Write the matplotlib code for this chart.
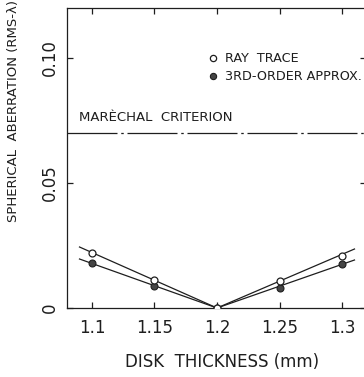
# spherical aberration vs disk thickness
from matplotlib import pyplot as plt
import numpy as np

plt.rcParams['font.family'] = ['DejaVu Sans']

# 데이터 - 그림에서 읽은 값
thickness = [1.1, 1.15, 1.2, 1.25, 1.3]
ray_trace = [0.022, 0.0112, 0.0, 0.011, 0.021]
third_order = [0.018, 0.0088, 0.0, 0.008, 0.0176]

# 직선 (fit) 끝점
fit_x = [1.09, 1.2, 1.31]
ray_fit = [0.0244, 0.0, 0.0236]
third_fit = [0.0196, 0.0, 0.0192]

marechal = 0.07

xticks = [1.1, 1.15, 1.2, 1.25, 1.3]
xticklabels = ['1.1', '1.15', '1.2', '1.25', '1.3']
yticks = [0, 0.05, 0.10]
yticklabels = ['0', '0.05', '0.10']

ink = '#1e1e1e'

fig = plt.figure(figsize=(3.64, 3.77), dpi=100)
ax = fig.add_axes([67 / 364, 69 / 377, 299 / 364, 300 / 377])

ax.plot(fit_x, ray_fit, color=ink, lw=0.9, zorder=2)
ax.plot(fit_x, third_fit, color=ink, lw=0.9, zorder=2)
ax.plot(thickness, third_order, 'o', color='#444444', mec=ink, ms=5, mew=0.8, zorder=3)
ax.plot(thickness, ray_trace, 'o', color='white', mec=ink, ms=5, mew=0.9, zorder=4)

# Marechal criterion
ax.axhline(marechal, color=ink, lw=0.9, dashes=(40, 3, 2, 3))
ax.text(1.0895, marechal + 0.0035, 'MARÈCHAL  CRITERION', fontsize=9.5,
        color=ink, va='bottom', ha='left')

# 범례 (수동)
ax.plot([1.1968], [0.1], 'o', color='white', mec=ink, ms=4.5, mew=0.9, clip_on=False)
ax.plot([1.1968], [0.0928], 'o', color='#444444', mec=ink, ms=4.5, mew=0.8, clip_on=False)
ax.text(1.2064, 0.1, 'RAY  TRACE', fontsize=9.2, color=ink, va='center')
ax.text(1.2064, 0.0928, '3RD-ORDER APPROX.', fontsize=9.2, color=ink, va='center')

ax.set_xlim(1.08, 1.3192)
ax.set_ylim(0, 0.12)

ax.set_xticks(xticks)
ax.set_xticklabels(xticklabels, fontsize=12, color=ink)
ax.set_yticks(yticks)
ax.set_yticklabels(yticklabels, fontsize=12, color=ink, rotation=90, va='center')
ax.tick_params(direction='in', length=4, width=0.9, top=True, right=True,
               color=ink, pad=8)
ax.tick_params(axis='y', pad=6)

for s in ax.spines.values():
    s.set_linewidth(0.9)
    s.set_color(ink)

ax.set_xlabel('DISK  THICKNESS (mm)', fontsize=12, color=ink)
ax.xaxis.set_label_coords(0.52, -0.15)
ax.set_ylabel('SPHERICAL  ABERRATION (RMS-λ)', fontsize=9.5, color=ink)
ax.yaxis.set_label_coords(-0.157, 0.655)

fig.savefig('out.png', dpi=100)
